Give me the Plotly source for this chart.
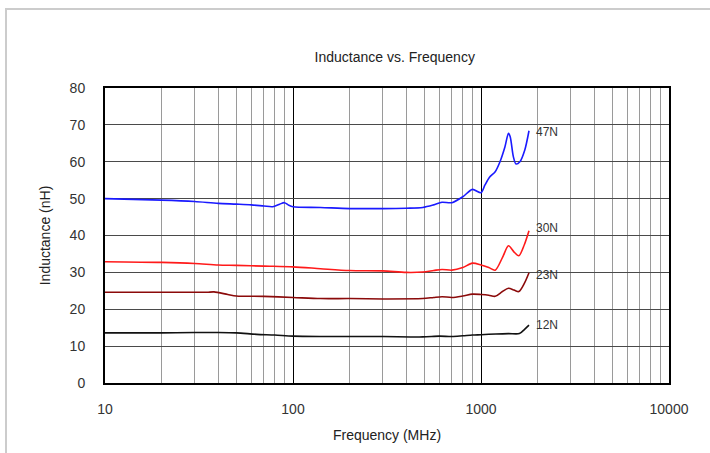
import numpy as np
import plotly.graph_objects as go

# ---- data ----
f_47 = [10, 20, 30, 40, 50, 60, 70, 78, 85, 90, 95, 100, 140, 200, 300, 400, 490, 560, 620, 700,
        800, 900, 1000, 1050, 1110, 1190, 1262, 1340, 1400, 1430, 1486, 1535, 1610, 1710, 1800]
v_47 = [50.0, 49.6, 49.2, 48.7, 48.5, 48.3, 48.0, 47.8, 48.5, 48.9, 48.2, 47.8, 47.6, 47.3, 47.3, 47.4, 47.6, 48.3, 49.0, 48.9,
        50.5, 52.5, 51.6, 53.7, 55.8, 57.3, 60.0, 64.0, 67.7, 66.8, 61.4, 59.4, 60.0, 63.2, 68.4]

f_30 = [10, 20, 30, 40, 50, 70, 100, 140, 200, 300, 400, 490, 560, 620, 700, 800, 900, 1000,
        1100, 1190, 1300, 1400, 1500, 1590, 1700, 1800]
v_30 = [32.9, 32.7, 32.4, 32.0, 31.9, 31.7, 31.5, 31.0, 30.5, 30.4, 30.0, 30.1, 30.5, 30.8, 30.6, 31.3, 32.5, 32.0,
        31.3, 30.6, 34.0, 37.2, 35.5, 34.5, 37.5, 41.3]

f_23 = [10, 20, 30, 35, 38, 45, 50, 70, 100, 140, 200, 300, 490, 560, 620, 700, 800, 900, 1000,
        1100, 1190, 1300, 1400, 1500, 1590, 1700, 1800]
v_23 = [24.6, 24.6, 24.6, 24.6, 24.7, 24.0, 23.6, 23.5, 23.2, 22.9, 22.9, 22.8, 22.9, 23.2, 23.4, 23.2, 23.6, 24.1, 24.0,
        23.8, 23.5, 24.8, 25.7, 25.2, 24.8, 27.0, 29.9]

f_12 = [10, 20, 30, 40, 50, 64, 80, 100, 140, 200, 300, 490, 600, 700, 800, 900, 1000, 1200, 1400, 1600, 1700, 1800]
v_12 = [13.6, 13.6, 13.7, 13.7, 13.6, 13.2, 13.0, 12.7, 12.6, 12.6, 12.6, 12.5, 12.7, 12.6, 12.8, 13.0, 13.1, 13.3, 13.4, 13.4, 14.5, 15.7]

series = [
    ("47N", f_47, v_47, "#1a1aff"),
    ("30N", f_30, v_30, "#ff1a1a"),
    ("23N", f_23, v_23, "#8b0a0a"),
    ("12N", f_12, v_12, "#111111"),
]
label_shift = {"47N": -1, "30N": 3, "23N": -2, "12N": 0}

x_ticks = [10, 100, 1000, 10000]
x_ticktext = ["10", "100", "1000", "10000"]
x_minor = [m * d for d in (10, 100, 1000) for m in range(2, 10)]
y_ticks = [0, 10, 20, 30, 40, 50, 60, 70, 80]

FONT = "Liberation Sans, Arial, sans-serif"

fig = go.Figure()
for name, fx, fy, col in series:
    fig.add_trace(go.Scatter(x=fx, y=fy, mode="lines", name=name,
                             line=dict(color=col, width=1.6, shape="spline", smoothing=0.8),
                             showlegend=False))
    fig.add_annotation(x=np.log10(fx[-1]), y=fy[-1], text=name, showarrow=False,
                       xanchor="left", yanchor="middle", xshift=5, yshift=label_shift[name],
                       font=dict(family=FONT, size=12, color="#333333"))

# light gray outer frame (top and left visible)
fig.add_shape(type="rect", xref="paper", yref="paper",
              x0=(6 - 105) / 564, x1=(730 - 105) / 564,
              y0=(383 - 480) / 295, y1=(383 - 9) / 295,
              line=dict(color="#cccccc", width=2), fillcolor="rgba(0,0,0,0)", layer="below")

fig.update_layout(
    width=710, height=453,
    margin=dict(l=105, r=41, t=88, b=70),
    paper_bgcolor="white", plot_bgcolor="white",
    font=dict(family=FONT, size=14, color="#333333"),
    title=dict(text="Inductance vs. Frequency", x=0.556, xref="container", xanchor="center",
               y=1 - 57 / 453, yref="container", yanchor="middle",
               font=dict(family=FONT, size=14, color="#222222")),
    xaxis=dict(type="log", range=[1, 4], tickmode="array", tickvals=x_ticks, ticktext=x_ticktext,
               showgrid=True, gridcolor="#000000", gridwidth=1,
               minor=dict(tickmode="array", tickvals=x_minor, showgrid=True, gridcolor="#9a9a9a", gridwidth=1, ticks=""),
               showline=True, linecolor="#000000", linewidth=2, mirror=True,
               ticks="outside", ticklen=12, tickcolor="rgba(0,0,0,0)",
               tickfont=dict(family=FONT, size=14, color="#333333"),
               title=dict(text="Frequency (MHz)", standoff=14, font=dict(family=FONT, size=14, color="#222222")),
               zeroline=False),
    yaxis=dict(range=[0, 80], tickmode="array", tickvals=y_ticks,
               showgrid=True, gridcolor="#4a4a4a", gridwidth=1,
               showline=True, linecolor="#000000", linewidth=2, mirror=True,
               ticks="outside", ticklen=15, tickcolor="rgba(0,0,0,0)",
               tickfont=dict(family=FONT, size=14, color="#333333"),
               title=dict(text="Inductance (nH)", standoff=16, font=dict(family=FONT, size=14, color="#222222")),
               zeroline=False),
)

fig.write_html("out.html", config={"displayModeBar": False},
               post_script="document.body.style.margin='0';document.body.style.overflow='hidden';")
